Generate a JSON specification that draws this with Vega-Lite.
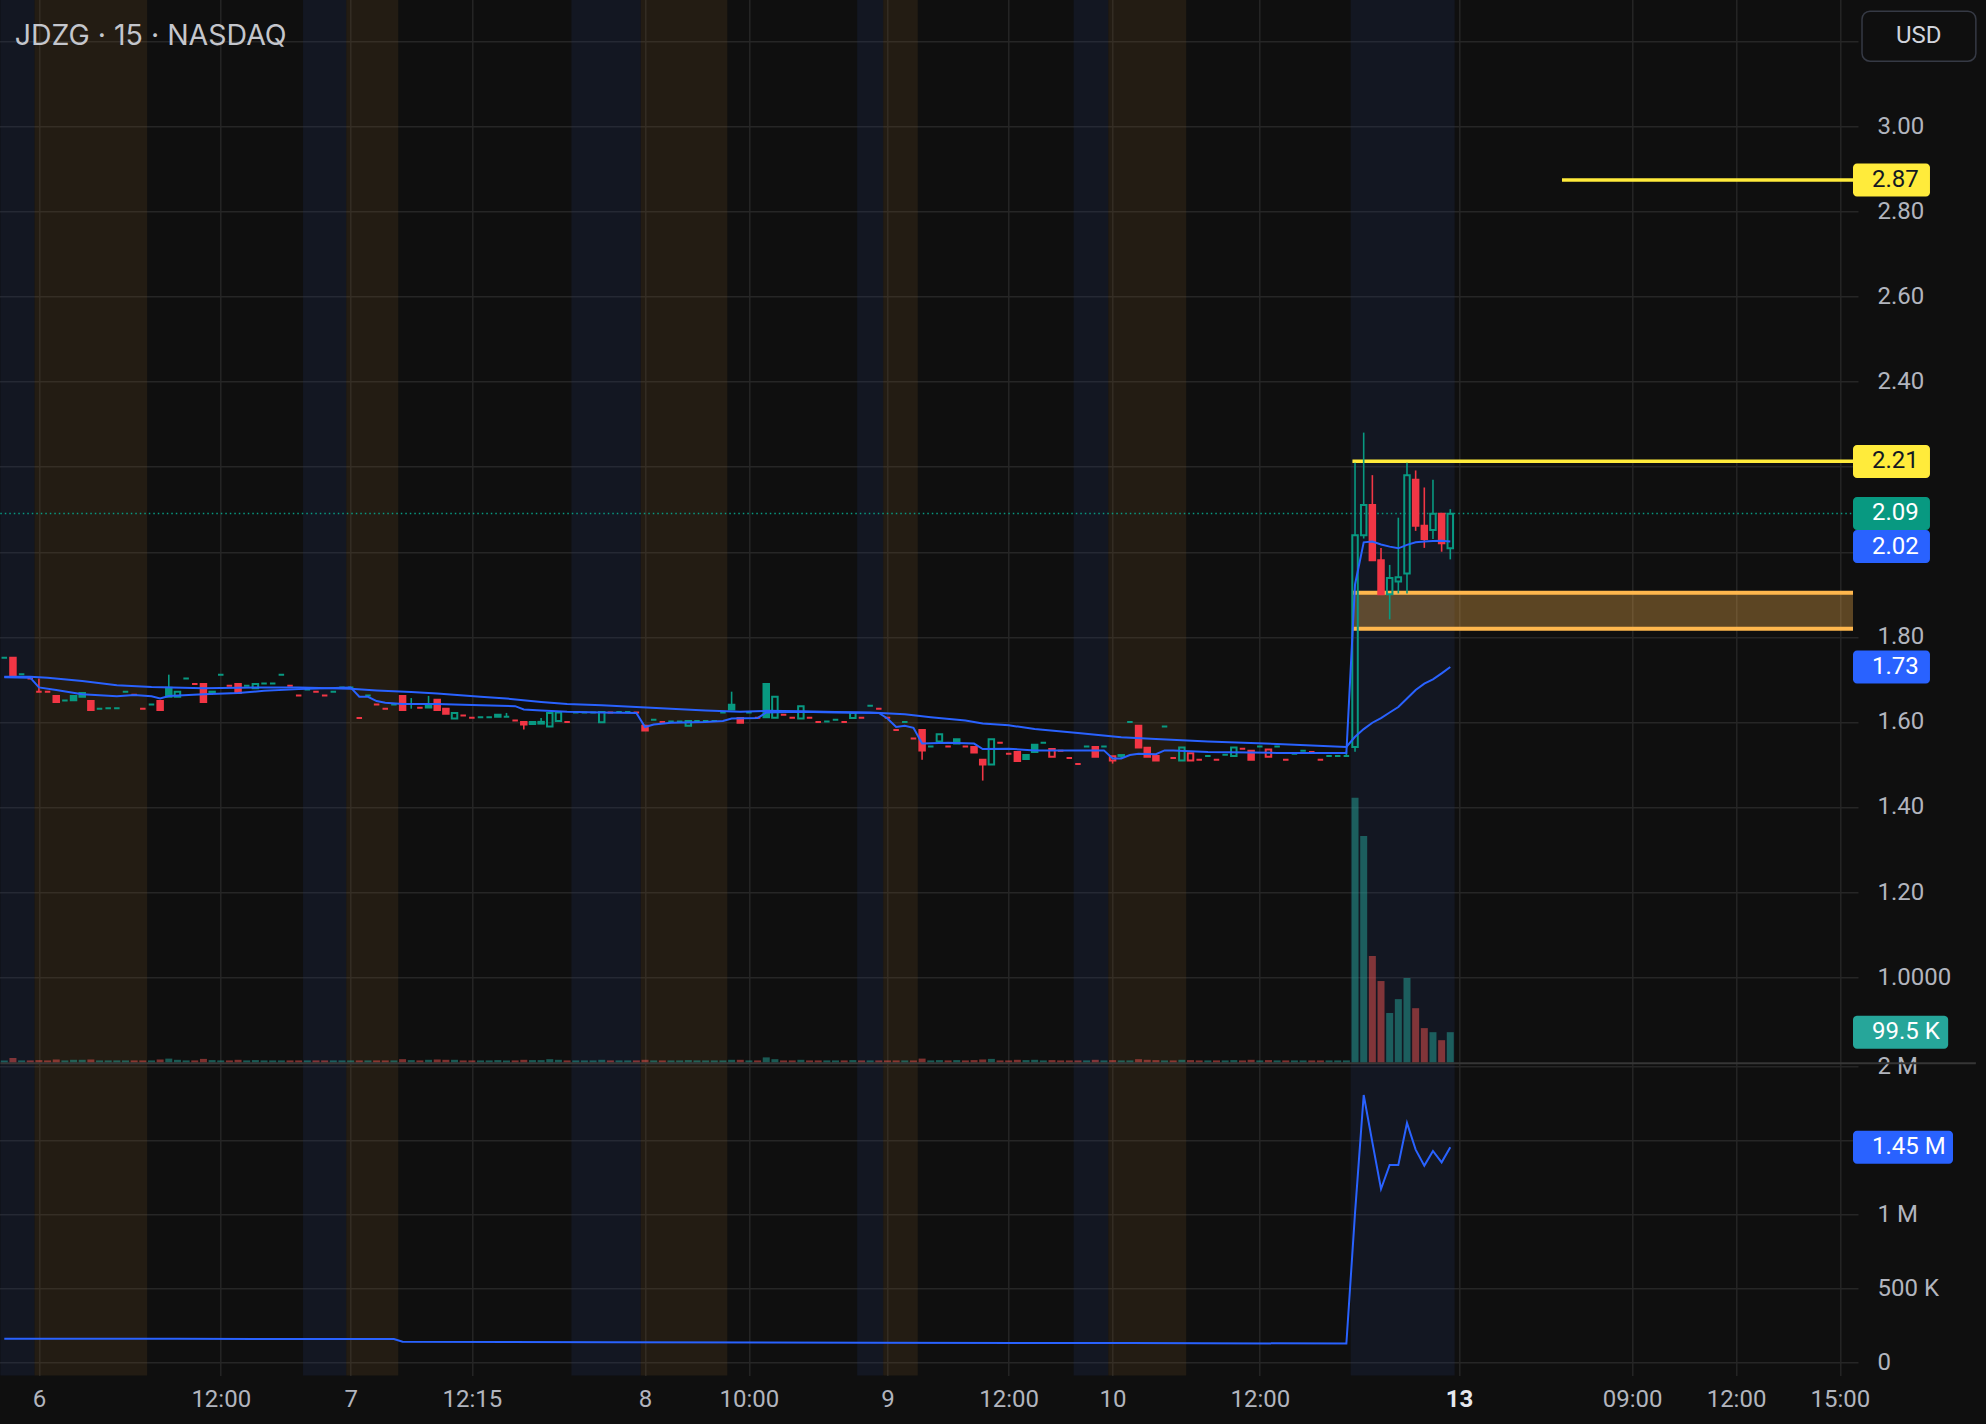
{
"$schema":"https://vega.github.io/schema/vega-lite/v6.json",
"background":"#0f0f0f",
"width":1986,"height":1424,
"autosize":{"type":"fit","contains":"padding"},
"padding":{"left":-4.7,"top":-3.8,"right":0,"bottom":12.5},
"config":{"font":"Roboto","view":{"stroke":null},"axis":{"labelFont":"Roboto"},"text":{"font":"Roboto"}},
"datasets":{
"bars":[
{"n":0,"o":1.751,"h":1.751,"l":1.751,"c":1.751,"v":6000,"dir":"up"},
{"n":1,"o":1.751,"h":1.751,"l":1.710,"c":1.710,"v":14000,"dir":"down"},
{"n":2,"o":1.712,"h":1.712,"l":1.712,"c":1.712,"v":6000,"dir":"up"},
{"n":3,"o":1.702,"h":1.702,"l":1.702,"c":1.702,"v":6000,"dir":"down"},
{"n":4,"o":1.671,"h":1.702,"l":1.671,"c":1.671,"v":7000,"dir":"down"},
{"n":5,"o":1.671,"h":1.671,"l":1.671,"c":1.671,"v":6000,"dir":"down"},
{"n":6,"o":1.661,"h":1.661,"l":1.647,"c":1.647,"v":9000,"dir":"down"},
{"n":7,"o":1.650,"h":1.650,"l":1.650,"c":1.650,"v":6000,"dir":"up"},
{"n":8,"o":1.661,"h":1.661,"l":1.651,"c":1.651,"v":8000,"dir":"up"},
{"n":9,"o":1.668,"h":1.668,"l":1.659,"c":1.659,"v":8000,"dir":"up"},
{"n":10,"o":1.649,"h":1.649,"l":1.628,"c":1.628,"v":9000,"dir":"down"},
{"n":11,"o":1.631,"h":1.631,"l":1.631,"c":1.631,"v":6000,"dir":"up"},
{"n":12,"o":1.632,"h":1.632,"l":1.632,"c":1.632,"v":6000,"dir":"up"},
{"n":13,"o":1.632,"h":1.632,"l":1.632,"c":1.632,"v":6000,"dir":"up"},
{"n":14,"o":1.671,"h":1.671,"l":1.671,"c":1.671,"v":6000,"dir":"up"},
{"n":15,"o":1.664,"h":1.664,"l":1.664,"c":1.664,"v":6000,"dir":"down"},
{"n":16,"o":1.631,"h":1.631,"l":1.631,"c":1.631,"v":6000,"dir":"down"},
{"n":17,"o":1.641,"h":1.641,"l":1.641,"c":1.641,"v":6000,"dir":"up"},
{"n":18,"o":1.649,"h":1.649,"l":1.628,"c":1.628,"v":9000,"dir":"down"},
{"n":19,"o":1.680,"h":1.711,"l":1.659,"c":1.659,"v":12000,"dir":"up"},
{"n":20,"o":1.659,"h":1.671,"l":1.659,"c":1.671,"v":8000,"dir":"up"},
{"n":21,"o":1.702,"h":1.702,"l":1.702,"c":1.702,"v":6000,"dir":"up"},
{"n":22,"o":1.689,"h":1.689,"l":1.689,"c":1.689,"v":6000,"dir":"down"},
{"n":23,"o":1.689,"h":1.689,"l":1.647,"c":1.647,"v":11000,"dir":"down"},
{"n":24,"o":1.669,"h":1.672,"l":1.663,"c":1.671,"v":7000,"dir":"up"},
{"n":25,"o":1.711,"h":1.711,"l":1.711,"c":1.711,"v":6000,"dir":"up"},
{"n":26,"o":1.685,"h":1.685,"l":1.685,"c":1.685,"v":6000,"dir":"down"},
{"n":27,"o":1.689,"h":1.689,"l":1.668,"c":1.668,"v":8000,"dir":"down"},
{"n":28,"o":1.685,"h":1.685,"l":1.685,"c":1.685,"v":6000,"dir":"up"},
{"n":29,"o":1.679,"h":1.689,"l":1.679,"c":1.689,"v":7000,"dir":"up"},
{"n":30,"o":1.690,"h":1.690,"l":1.690,"c":1.690,"v":6000,"dir":"up"},
{"n":31,"o":1.690,"h":1.690,"l":1.690,"c":1.690,"v":6000,"dir":"up"},
{"n":32,"o":1.711,"h":1.711,"l":1.711,"c":1.711,"v":6000,"dir":"up"},
{"n":33,"o":1.685,"h":1.685,"l":1.685,"c":1.685,"v":6000,"dir":"down"},
{"n":34,"o":1.662,"h":1.662,"l":1.662,"c":1.662,"v":6000,"dir":"down"},
{"n":35,"o":1.676,"h":1.676,"l":1.676,"c":1.676,"v":6000,"dir":"up"},
{"n":36,"o":1.671,"h":1.671,"l":1.671,"c":1.671,"v":6000,"dir":"down"},
{"n":37,"o":1.662,"h":1.662,"l":1.662,"c":1.662,"v":6000,"dir":"down"},
{"n":38,"o":1.671,"h":1.671,"l":1.671,"c":1.671,"v":6000,"dir":"up"},
{"n":39,"o":1.681,"h":1.681,"l":1.681,"c":1.681,"v":6000,"dir":"up"},
{"n":40,"o":1.681,"h":1.681,"l":1.681,"c":1.681,"v":6000,"dir":"up"},
{"n":41,"o":1.609,"h":1.609,"l":1.609,"c":1.609,"v":6000,"dir":"down"},
{"n":42,"o":1.662,"h":1.662,"l":1.662,"c":1.662,"v":6000,"dir":"up"},
{"n":43,"o":1.641,"h":1.641,"l":1.641,"c":1.641,"v":6000,"dir":"down"},
{"n":44,"o":1.631,"h":1.631,"l":1.631,"c":1.631,"v":6000,"dir":"down"},
{"n":45,"o":1.641,"h":1.641,"l":1.641,"c":1.641,"v":6000,"dir":"up"},
{"n":46,"o":1.661,"h":1.661,"l":1.628,"c":1.628,"v":10000,"dir":"down"},
{"n":47,"o":1.642,"h":1.656,"l":1.631,"c":1.642,"v":7000,"dir":"up"},
{"n":48,"o":1.633,"h":1.633,"l":1.633,"c":1.633,"v":6000,"dir":"down"},
{"n":49,"o":1.642,"h":1.661,"l":1.634,"c":1.634,"v":8000,"dir":"up"},
{"n":50,"o":1.652,"h":1.652,"l":1.628,"c":1.628,"v":9000,"dir":"down"},
{"n":51,"o":1.631,"h":1.631,"l":1.619,"c":1.619,"v":8000,"dir":"down"},
{"n":52,"o":1.608,"h":1.621,"l":1.608,"c":1.621,"v":8000,"dir":"up"},
{"n":53,"o":1.615,"h":1.615,"l":1.615,"c":1.615,"v":6000,"dir":"down"},
{"n":54,"o":1.610,"h":1.610,"l":1.610,"c":1.610,"v":6000,"dir":"down"},
{"n":55,"o":1.611,"h":1.611,"l":1.611,"c":1.611,"v":6000,"dir":"up"},
{"n":56,"o":1.611,"h":1.611,"l":1.611,"c":1.611,"v":6000,"dir":"up"},
{"n":57,"o":1.617,"h":1.617,"l":1.612,"c":1.612,"v":7000,"dir":"up"},
{"n":58,"o":1.612,"h":1.621,"l":1.612,"c":1.612,"v":6000,"dir":"up"},
{"n":59,"o":1.603,"h":1.603,"l":1.603,"c":1.603,"v":6000,"dir":"down"},
{"n":60,"o":1.600,"h":1.600,"l":1.582,"c":1.594,"v":8000,"dir":"down"},
{"n":61,"o":1.600,"h":1.600,"l":1.595,"c":1.595,"v":7000,"dir":"up"},
{"n":62,"o":1.600,"h":1.609,"l":1.596,"c":1.596,"v":7000,"dir":"up"},
{"n":63,"o":1.589,"h":1.621,"l":1.589,"c":1.621,"v":10000,"dir":"up"},
{"n":64,"o":1.602,"h":1.622,"l":1.602,"c":1.622,"v":8000,"dir":"up"},
{"n":65,"o":1.600,"h":1.600,"l":1.600,"c":1.600,"v":6000,"dir":"down"},
{"n":66,"o":1.622,"h":1.622,"l":1.622,"c":1.622,"v":6000,"dir":"up"},
{"n":67,"o":1.622,"h":1.622,"l":1.622,"c":1.622,"v":6000,"dir":"up"},
{"n":68,"o":1.622,"h":1.622,"l":1.622,"c":1.622,"v":6000,"dir":"up"},
{"n":69,"o":1.599,"h":1.623,"l":1.599,"c":1.623,"v":8000,"dir":"up"},
{"n":70,"o":1.622,"h":1.622,"l":1.622,"c":1.622,"v":6000,"dir":"down"},
{"n":71,"o":1.623,"h":1.623,"l":1.623,"c":1.623,"v":6000,"dir":"up"},
{"n":72,"o":1.623,"h":1.623,"l":1.623,"c":1.623,"v":6000,"dir":"up"},
{"n":73,"o":1.622,"h":1.622,"l":1.622,"c":1.622,"v":6000,"dir":"down"},
{"n":74,"o":1.591,"h":1.591,"l":1.580,"c":1.580,"v":8000,"dir":"down"},
{"n":75,"o":1.605,"h":1.605,"l":1.605,"c":1.605,"v":6000,"dir":"up"},
{"n":76,"o":1.600,"h":1.600,"l":1.600,"c":1.600,"v":6000,"dir":"down"},
{"n":77,"o":1.601,"h":1.601,"l":1.601,"c":1.601,"v":6000,"dir":"up"},
{"n":78,"o":1.601,"h":1.601,"l":1.601,"c":1.601,"v":6000,"dir":"up"},
{"n":79,"o":1.591,"h":1.602,"l":1.591,"c":1.602,"v":7000,"dir":"up"},
{"n":80,"o":1.602,"h":1.602,"l":1.602,"c":1.602,"v":6000,"dir":"up"},
{"n":81,"o":1.602,"h":1.602,"l":1.602,"c":1.602,"v":6000,"dir":"up"},
{"n":82,"o":1.602,"h":1.602,"l":1.602,"c":1.602,"v":6000,"dir":"up"},
{"n":83,"o":1.622,"h":1.622,"l":1.622,"c":1.622,"v":6000,"dir":"up"},
{"n":84,"o":1.640,"h":1.671,"l":1.629,"c":1.629,"v":8000,"dir":"up"},
{"n":85,"o":1.609,"h":1.609,"l":1.598,"c":1.598,"v":8000,"dir":"down"},
{"n":86,"o":1.622,"h":1.622,"l":1.622,"c":1.622,"v":6000,"dir":"up"},
{"n":87,"o":1.610,"h":1.610,"l":1.610,"c":1.610,"v":6000,"dir":"down"},
{"n":88,"o":1.689,"h":1.689,"l":1.611,"c":1.611,"v":16000,"dir":"up"},
{"n":89,"o":1.610,"h":1.659,"l":1.610,"c":1.659,"v":10000,"dir":"up"},
{"n":90,"o":1.617,"h":1.617,"l":1.617,"c":1.617,"v":6000,"dir":"down"},
{"n":91,"o":1.610,"h":1.610,"l":1.610,"c":1.610,"v":6000,"dir":"down"},
{"n":92,"o":1.608,"h":1.637,"l":1.608,"c":1.637,"v":8000,"dir":"up"},
{"n":93,"o":1.610,"h":1.610,"l":1.610,"c":1.610,"v":6000,"dir":"down"},
{"n":94,"o":1.600,"h":1.600,"l":1.600,"c":1.600,"v":6000,"dir":"down"},
{"n":95,"o":1.601,"h":1.601,"l":1.601,"c":1.601,"v":6000,"dir":"up"},
{"n":96,"o":1.605,"h":1.605,"l":1.605,"c":1.605,"v":6000,"dir":"up"},
{"n":97,"o":1.600,"h":1.600,"l":1.600,"c":1.600,"v":6000,"dir":"down"},
{"n":98,"o":1.609,"h":1.621,"l":1.609,"c":1.621,"v":7000,"dir":"up"},
{"n":99,"o":1.610,"h":1.610,"l":1.610,"c":1.610,"v":6000,"dir":"down"},
{"n":100,"o":1.638,"h":1.638,"l":1.638,"c":1.638,"v":6000,"dir":"up"},
{"n":101,"o":1.631,"h":1.631,"l":1.631,"c":1.631,"v":6000,"dir":"down"},
{"n":102,"o":1.610,"h":1.610,"l":1.610,"c":1.610,"v":6000,"dir":"down"},
{"n":103,"o":1.581,"h":1.581,"l":1.581,"c":1.581,"v":6000,"dir":"down"},
{"n":104,"o":1.600,"h":1.600,"l":1.600,"c":1.600,"v":6000,"dir":"up"},
{"n":105,"o":1.561,"h":1.561,"l":1.561,"c":1.561,"v":6000,"dir":"down"},
{"n":106,"o":1.581,"h":1.581,"l":1.511,"c":1.533,"v":12000,"dir":"down"},
{"n":107,"o":1.542,"h":1.542,"l":1.542,"c":1.542,"v":6000,"dir":"up"},
{"n":108,"o":1.554,"h":1.571,"l":1.554,"c":1.571,"v":7000,"dir":"up"},
{"n":109,"o":1.542,"h":1.542,"l":1.542,"c":1.542,"v":6000,"dir":"down"},
{"n":110,"o":1.559,"h":1.559,"l":1.549,"c":1.549,"v":7000,"dir":"up"},
{"n":111,"o":1.542,"h":1.542,"l":1.542,"c":1.542,"v":6000,"dir":"down"},
{"n":112,"o":1.541,"h":1.541,"l":1.528,"c":1.528,"v":7000,"dir":"down"},
{"n":113,"o":1.511,"h":1.511,"l":1.462,"c":1.500,"v":9000,"dir":"down"},
{"n":114,"o":1.500,"h":1.559,"l":1.500,"c":1.559,"v":11000,"dir":"up"},
{"n":115,"o":1.551,"h":1.551,"l":1.551,"c":1.551,"v":6000,"dir":"down"},
{"n":116,"o":1.525,"h":1.525,"l":1.525,"c":1.525,"v":6000,"dir":"down"},
{"n":117,"o":1.529,"h":1.529,"l":1.508,"c":1.508,"v":8000,"dir":"down"},
{"n":118,"o":1.522,"h":1.522,"l":1.513,"c":1.513,"v":7000,"dir":"up"},
{"n":119,"o":1.546,"h":1.546,"l":1.529,"c":1.529,"v":8000,"dir":"up"},
{"n":120,"o":1.551,"h":1.551,"l":1.551,"c":1.551,"v":6000,"dir":"up"},
{"n":121,"o":1.518,"h":1.536,"l":1.518,"c":1.536,"v":7000,"dir":"down"},
{"n":122,"o":1.532,"h":1.532,"l":1.532,"c":1.532,"v":6000,"dir":"down"},
{"n":123,"o":1.515,"h":1.515,"l":1.515,"c":1.515,"v":6000,"dir":"down"},
{"n":124,"o":1.501,"h":1.501,"l":1.501,"c":1.501,"v":6000,"dir":"down"},
{"n":125,"o":1.542,"h":1.542,"l":1.542,"c":1.542,"v":6000,"dir":"up"},
{"n":126,"o":1.541,"h":1.541,"l":1.518,"c":1.518,"v":8000,"dir":"down"},
{"n":127,"o":1.542,"h":1.542,"l":1.542,"c":1.542,"v":6000,"dir":"up"},
{"n":128,"o":1.509,"h":1.519,"l":1.502,"c":1.519,"v":7000,"dir":"down"},
{"n":129,"o":1.520,"h":1.522,"l":1.513,"c":1.522,"v":6000,"dir":"up"},
{"n":130,"o":1.600,"h":1.600,"l":1.600,"c":1.600,"v":6000,"dir":"up"},
{"n":131,"o":1.591,"h":1.591,"l":1.540,"c":1.540,"v":10000,"dir":"down"},
{"n":132,"o":1.539,"h":1.539,"l":1.518,"c":1.518,"v":8000,"dir":"down"},
{"n":133,"o":1.520,"h":1.520,"l":1.509,"c":1.509,"v":7000,"dir":"down"},
{"n":134,"o":1.589,"h":1.589,"l":1.589,"c":1.589,"v":6000,"dir":"up"},
{"n":135,"o":1.515,"h":1.515,"l":1.515,"c":1.515,"v":6000,"dir":"down"},
{"n":136,"o":1.509,"h":1.540,"l":1.509,"c":1.540,"v":8000,"dir":"up"},
{"n":137,"o":1.509,"h":1.526,"l":1.509,"c":1.526,"v":7000,"dir":"down"},
{"n":138,"o":1.511,"h":1.511,"l":1.511,"c":1.511,"v":6000,"dir":"down"},
{"n":139,"o":1.520,"h":1.520,"l":1.520,"c":1.520,"v":6000,"dir":"up"},
{"n":140,"o":1.511,"h":1.511,"l":1.511,"c":1.511,"v":6000,"dir":"down"},
{"n":141,"o":1.523,"h":1.523,"l":1.523,"c":1.523,"v":6000,"dir":"up"},
{"n":142,"o":1.520,"h":1.540,"l":1.520,"c":1.540,"v":7000,"dir":"up"},
{"n":143,"o":1.537,"h":1.537,"l":1.537,"c":1.537,"v":6000,"dir":"down"},
{"n":144,"o":1.532,"h":1.532,"l":1.511,"c":1.511,"v":8000,"dir":"down"},
{"n":145,"o":1.542,"h":1.542,"l":1.542,"c":1.542,"v":6000,"dir":"up"},
{"n":146,"o":1.518,"h":1.535,"l":1.518,"c":1.535,"v":7000,"dir":"down"},
{"n":147,"o":1.542,"h":1.542,"l":1.542,"c":1.542,"v":6000,"dir":"up"},
{"n":148,"o":1.511,"h":1.511,"l":1.511,"c":1.511,"v":6000,"dir":"down"},
{"n":149,"o":1.525,"h":1.525,"l":1.525,"c":1.525,"v":6000,"dir":"up"},
{"n":150,"o":1.532,"h":1.532,"l":1.532,"c":1.532,"v":6000,"dir":"up"},
{"n":151,"o":1.529,"h":1.529,"l":1.529,"c":1.529,"v":6000,"dir":"down"},
{"n":152,"o":1.511,"h":1.511,"l":1.511,"c":1.511,"v":6000,"dir":"down"},
{"n":153,"o":1.520,"h":1.520,"l":1.520,"c":1.520,"v":6000,"dir":"up"},
{"n":154,"o":1.520,"h":1.520,"l":1.520,"c":1.520,"v":6000,"dir":"up"},
{"n":155,"o":1.520,"h":1.531,"l":1.520,"c":1.520,"v":6000,"dir":"up"},
{"n":156,"o":1.541,"h":2.209,"l":1.530,"c":2.039,"v":876000,"dir":"up"},
{"n":157,"o":2.039,"h":2.280,"l":2.031,"c":2.110,"v":750000,"dir":"up"},
{"n":158,"o":2.110,"h":2.180,"l":1.980,"c":1.980,"v":352000,"dir":"down"},
{"n":159,"o":1.980,"h":2.009,"l":1.900,"c":1.900,"v":269000,"dir":"down"},
{"n":160,"o":1.900,"h":1.969,"l":1.841,"c":1.938,"v":163000,"dir":"up"},
{"n":161,"o":1.930,"h":2.080,"l":1.902,"c":1.940,"v":209000,"dir":"up"},
{"n":162,"o":1.949,"h":2.209,"l":1.902,"c":2.180,"v":279000,"dir":"up"},
{"n":163,"o":2.169,"h":2.191,"l":2.049,"c":2.061,"v":179000,"dir":"down"},
{"n":164,"o":2.061,"h":2.151,"l":2.009,"c":2.030,"v":113000,"dir":"down"},
{"n":165,"o":2.051,"h":2.169,"l":2.030,"c":2.089,"v":99500,"dir":"up"},
{"n":166,"o":2.089,"h":2.089,"l":2.000,"c":2.020,"v":73000,"dir":"down"},
{"n":167,"o":2.008,"h":2.100,"l":1.982,"c":2.089,"v":99500,"dir":"up"}
],
"vwap":[
{"n":0,"value":1.705},{"n":3,"value":1.704},{"n":4,"value":1.681},{"n":6,"value":1.675},{"n":9,"value":1.665},{"n":13,"value":1.660},{"n":15,"value":1.663},{"n":17,"value":1.660},{"n":18,"value":1.655},{"n":19,"value":1.661},{"n":23,"value":1.665},{"n":27,"value":1.668},{"n":30,"value":1.673},{"n":34,"value":1.677},{"n":39,"value":1.680},{"n":40,"value":1.681},{"n":41,"value":1.659},{"n":42,"value":1.659},{"n":43,"value":1.649},{"n":44,"value":1.645},{"n":46,"value":1.642},{"n":50,"value":1.642},{"n":55,"value":1.639},{"n":59,"value":1.637},{"n":60,"value":1.629},{"n":62,"value":1.627},{"n":65,"value":1.624},{"n":69,"value":1.622},{"n":73,"value":1.621},{"n":74,"value":1.588},{"n":75,"value":1.594},{"n":77,"value":1.598},{"n":81,"value":1.600},{"n":83,"value":1.602},{"n":84,"value":1.608},{"n":87,"value":1.609},{"n":88,"value":1.622},{"n":92,"value":1.624},{"n":96,"value":1.622},{"n":101,"value":1.621},{"n":102,"value":1.608},{"n":103,"value":1.588},{"n":104,"value":1.591},{"n":105,"value":1.586},{"n":106,"value":1.549},{"n":109,"value":1.551},{"n":112,"value":1.549},{"n":113,"value":1.536},{"n":116,"value":1.537},{"n":119,"value":1.533},{"n":127,"value":1.533},{"n":128,"value":1.514},{"n":129,"value":1.514},{"n":130,"value":1.522},{"n":131,"value":1.525},{"n":133,"value":1.524},{"n":134,"value":1.533},{"n":135,"value":1.533},{"n":139,"value":1.529},{"n":147,"value":1.527},{"n":155,"value":1.527},{"n":156,"value":1.923},{"n":157,"value":2.022},{"n":158,"value":2.024},{"n":159,"value":2.017},{"n":160,"value":2.012},{"n":161,"value":2.008},{"n":162,"value":2.016},{"n":163,"value":2.022},{"n":164,"value":2.024},{"n":165,"value":2.025},{"n":166,"value":2.026},{"n":167,"value":2.024}
],
"ma":[
{"n":0,"value":1.706},{"n":3,"value":1.706},{"n":5,"value":1.704},{"n":9,"value":1.696},{"n":13,"value":1.686},{"n":17,"value":1.682},{"n":23,"value":1.679},{"n":27,"value":1.680},{"n":30,"value":1.681},{"n":34,"value":1.681},{"n":40,"value":1.678},{"n":43,"value":1.674},{"n":47,"value":1.670},{"n":50,"value":1.667},{"n":55,"value":1.659},{"n":58,"value":1.655},{"n":62,"value":1.647},{"n":65,"value":1.642},{"n":69,"value":1.639},{"n":73,"value":1.635},{"n":77,"value":1.631},{"n":81,"value":1.627},{"n":85,"value":1.624},{"n":88,"value":1.626},{"n":92,"value":1.625},{"n":96,"value":1.623},{"n":100,"value":1.622},{"n":104,"value":1.618},{"n":107,"value":1.611},{"n":111,"value":1.603},{"n":113,"value":1.596},{"n":116,"value":1.592},{"n":119,"value":1.583},{"n":124,"value":1.574},{"n":129,"value":1.564},{"n":133,"value":1.560},{"n":139,"value":1.554},{"n":147,"value":1.548},{"n":155,"value":1.541},{"n":156,"value":1.565},{"n":157,"value":1.583},{"n":158,"value":1.598},{"n":159,"value":1.609},{"n":160,"value":1.622},{"n":161,"value":1.635},{"n":162,"value":1.655},{"n":163,"value":1.675},{"n":164,"value":1.690},{"n":165,"value":1.700},{"n":166,"value":1.714},{"n":167,"value":1.729}
],
"rvol":[
{"n":0,"value":161000},{"n":20,"value":160000},{"n":45,"value":158000},{"n":46,"value":140000},{"n":70,"value":137000},{"n":100,"value":134000},{"n":130,"value":131000},{"n":155,"value":128000},{"n":156,"value":1010000},{"n":157,"value":1806000},{"n":158,"value":1486000},{"n":159,"value":1171000},{"n":160,"value":1333000},{"n":161,"value":1333000},{"n":162,"value":1617000},{"n":163,"value":1437000},{"n":164,"value":1329000},{"n":165,"value":1428000},{"n":166,"value":1351000},{"n":167,"value":1453000}
],
"bands":[
{"start":-0.46,"end":3.5,"session":"post"},
{"start":3.5,"end":16.5,"session":"pre"},
{"start":34.5,"end":39.5,"session":"post"},
{"start":39.5,"end":45.5,"session":"pre"},
{"start":65.5,"end":73.5,"session":"post"},
{"start":73.5,"end":83.5,"session":"pre"},
{"start":98.5,"end":101.5,"session":"post"},
{"start":101.5,"end":105.5,"session":"pre"},
{"start":123.5,"end":127.5,"session":"post"},
{"start":127.5,"end":136.5,"session":"pre"},
{"start":155.5,"end":167.5,"session":"post"}
],
"levels":[{"from":179.9,"price":2.874},{"from":155.7,"price":2.2125}],
"zone":[{"from":155.7,"lo":1.819,"hi":1.9035}],
"last":[{"price":2.09}],
"separator":[{"price":0.7976}],
"tags":[
{"price":2.874,"text":"2.87","kind":"level"},
{"price":2.2123,"text":"2.21","kind":"level"},
{"price":2.09,"text":"2.09","kind":"last"},
{"price":2.012,"text":"2.02","kind":"line"},
{"price":1.729,"text":"1.73","kind":"line"}
],
"vtag":[{"v":99500,"text":"99.5 K"}],
"rtag":[{"value":1453000,"text":"1.45 M"}]
},
"resolve":{"scale":{"y":"independent"}},
"layer":[
{"layer":[
{"data":{"name":"bands"},"mark":{"type":"rect","opacity":0.2},
 "encoding":{
  "x":{"field":"start","type":"quantitative","scale":{"domain":[-0.46,213.51],"nice":false,"zero":false},"title":null,
   "axis":{"values":[4,25,40,54,74,86,102,116,128,145,168,188,200,212],
    "labelExpr":"datum.value==4?'6':datum.value==25?'12:00':datum.value==40?'7':datum.value==54?'12:15':datum.value==74?'8':datum.value==86?'10:00':datum.value==102?'9':datum.value==116?'12:00':datum.value==128?'10':datum.value==145?'12:00':datum.value==168?'13':datum.value==188?'09:00':datum.value==200?'12:00':datum.value==212?'15:00':''",
    "labelFontSize":24,
    "labelColor":{"condition":{"test":"datum.value == 168","value":"#e6e8ee"},"value":"#b2b5be"},
    "labelFontWeight":{"condition":{"test":"datum.value == 168","value":"bold"},"value":"normal"},
    "labelPadding":12,"ticks":false,"tickSize":0,"domain":false,"grid":true,"gridColor":"#262626","gridWidth":1.5,"labelFlush":false,"labelOverlap":false,"title":null}},
  "x2":{"field":"end"},
  "color":{"condition":{"test":"datum.session == 'pre'","value":"#735023"},"value":"#23376e"}}},
{"data":{"name":"separator"},"mark":{"type":"rule","color":"#363636","strokeWidth":2},
 "encoding":{
  "x":{"datum":-0.46,"type":"quantitative","scale":{"domain":[-0.46,213.51],"nice":false,"zero":false}},
  "x2":{"datum":227.7},
  "y":{"field":"price","type":"quantitative","scale":{"domain":[0.0753,3.2941],"nice":false,"zero":false},"title":null}}},
{"data":{"name":"zone"},"mark":{"type":"rect","color":"#ffb74d","opacity":0.32},
 "encoding":{
  "x":{"field":"from","type":"quantitative","scale":{"domain":[-0.46,213.51],"nice":false,"zero":false},"title":null},
  "x2":{"datum":213.51},
  "y":{"field":"lo","type":"quantitative","scale":{"domain":[0.0753,3.2941],"nice":false,"zero":false},"title":null},
  "y2":{"field":"hi"}}},
{"data":{"name":"zone"},"mark":{"type":"rule","color":"#ffb74d","strokeWidth":4},
 "encoding":{
  "x":{"field":"from","type":"quantitative","scale":{"domain":[-0.46,213.51],"nice":false,"zero":false},"title":null},
  "x2":{"datum":213.51},
  "y":{"field":"lo","type":"quantitative","scale":{"domain":[0.0753,3.2941],"nice":false,"zero":false},"title":null}}},
{"data":{"name":"zone"},"mark":{"type":"rule","color":"#ffb74d","strokeWidth":4},
 "encoding":{
  "x":{"field":"from","type":"quantitative","scale":{"domain":[-0.46,213.51],"nice":false,"zero":false},"title":null},
  "x2":{"datum":213.51},
  "y":{"field":"hi","type":"quantitative","scale":{"domain":[0.0753,3.2941],"nice":false,"zero":false},"title":null}}},
{"data":{"name":"levels"},"mark":{"type":"rule","color":"#ffeb3b","strokeWidth":3.5},
 "encoding":{
  "x":{"field":"from","type":"quantitative","scale":{"domain":[-0.46,213.51],"nice":false,"zero":false},"title":null},
  "x2":{"datum":213.51},
  "y":{"field":"price","type":"quantitative","scale":{"domain":[0.0753,3.2941],"nice":false,"zero":false},"title":null}}},
{"data":{"name":"last"},"mark":{"type":"rule","color":"#089981","strokeWidth":1.5,"strokeDash":[1.5,3]},
 "encoding":{
  "x":{"datum":-0.46,"type":"quantitative","scale":{"domain":[-0.46,213.51],"nice":false,"zero":false}},
  "x2":{"datum":213.51},
  "y":{"field":"price","type":"quantitative","scale":{"domain":[0.0753,3.2941],"nice":false,"zero":false},"title":null}}},
{"data":{"name":"bars"},"mark":{"type":"rule","strokeWidth":1.6},
 "encoding":{
  "x":{"field":"n","type":"quantitative","scale":{"domain":[-0.46,213.51],"nice":false,"zero":false},"title":null},
  "y":{"field":"h","type":"quantitative","scale":{"domain":[0.0753,3.2941],"nice":false,"zero":false},"title":null},
  "y2":{"field":"c"},
  "color":{"condition":{"test":"datum.dir == 'up'","value":"#089981"},"value":"#f23645"}}},
{"data":{"name":"bars"},"mark":{"type":"rule","strokeWidth":1.6},
 "encoding":{
  "x":{"field":"n","type":"quantitative","scale":{"domain":[-0.46,213.51],"nice":false,"zero":false},"title":null},
  "y":{"field":"o","type":"quantitative","scale":{"domain":[0.0753,3.2941],"nice":false,"zero":false},"title":null},
  "y2":{"field":"l"},
  "color":{"condition":{"test":"datum.dir == 'up'","value":"#089981"},"value":"#f23645"}}},
{"data":{"name":"bars"},"mark":{"type":"bar","width":5.5,"strokeWidth":2,"orient":"vertical"},
 "encoding":{
  "x":{"field":"n","type":"quantitative","scale":{"domain":[-0.46,213.51],"nice":false,"zero":false},"title":null},
  "y":{"field":"o","type":"quantitative","scale":{"domain":[0.0753,3.2941],"nice":false,"zero":false},"title":null,
   "axis":{"orient":"right","values":[1,1.2,1.4,1.6,1.8,2,2.2,2.4,2.6,2.8,3,3.2],
    "labelExpr":"abs(datum.value-1)<0.001?'1.0000':(abs(datum.value-2.2)<0.001||abs(datum.value-2)<0.001||abs(datum.value-3.2)<0.001)?'':format(datum.value,'.2f')",
    "grid":true,"gridColor":"#262626","gridWidth":1.5,"ticks":false,"tickSize":0,"domain":false,"labelPadding":19,"labelFontSize":24,"labelColor":"#b2b5be","labelOverlap":false,"labelFlush":false,"title":null}},
  "y2":{"field":"c"},
  "fill":{"condition":[{"test":"datum.c > datum.o","value":"transparent"},{"test":"datum.dir == 'up'","value":"#089981"}],"value":"#f23645"},
  "stroke":{"condition":{"test":"datum.dir == 'up'","value":"#089981"},"value":"#f23645"}}},
{"data":{"name":"ma"},"mark":{"type":"line","color":"#2962ff","strokeWidth":2},
 "encoding":{
  "x":{"field":"n","type":"quantitative","scale":{"domain":[-0.46,213.51],"nice":false,"zero":false},"title":null},
  "y":{"field":"value","type":"quantitative","scale":{"domain":[0.0753,3.2941],"nice":false,"zero":false},"title":null}}},
{"data":{"name":"vwap"},"mark":{"type":"line","color":"#2962ff","strokeWidth":2},
 "encoding":{
  "x":{"field":"n","type":"quantitative","scale":{"domain":[-0.46,213.51],"nice":false,"zero":false},"title":null},
  "y":{"field":"value","type":"quantitative","scale":{"domain":[0.0753,3.2941],"nice":false,"zero":false},"title":null}}},
{"data":{"name":"tags"},"mark":{"type":"bar","height":33,"orient":"horizontal","cornerRadiusEnd":4},
 "encoding":{
  "x":{"datum":213.51,"type":"quantitative","scale":{"domain":[-0.46,213.51],"nice":false,"zero":false}},
  "x2":{"datum":222.4},
  "y":{"field":"price","type":"quantitative","scale":{"domain":[0.0753,3.2941],"nice":false,"zero":false},"title":null},
  "color":{"condition":[{"test":"datum.kind == 'level'","value":"#ffeb3b"},{"test":"datum.kind == 'last'","value":"#089981"}],"value":"#2962ff"}}},
{"data":{"name":"tags"},"mark":{"type":"text","align":"left","baseline":"middle","fontSize":24,"font":"Roboto"},
 "encoding":{
  "x":{"datum":215.7,"type":"quantitative","scale":{"domain":[-0.46,213.51],"nice":false,"zero":false}},
  "y":{"field":"price","type":"quantitative","scale":{"domain":[0.0753,3.2941],"nice":false,"zero":false},"title":null},
  "text":{"field":"text"},
  "color":{"condition":{"test":"datum.kind == 'level'","value":"#131722"},"value":"#ffffff"}}},
{"data":{"values":[{"t":"JDZG · 15 · NASDAQ"}]},"mark":{"type":"text","align":"left","baseline":"middle","fontSize":28.5,"font":"Inter","color":"#c4c6cc"},
 "encoding":{
  "x":{"datum":1.2,"type":"quantitative","scale":{"domain":[-0.46,213.51],"nice":false,"zero":false}},
  "y":{"datum":3.212,"type":"quantitative","scale":{"domain":[0.0753,3.2941],"nice":false,"zero":false}},
  "text":{"field":"t"}}},
{"data":{"values":[{"t":"USD"}]},"mark":{"type":"rect","fill":"#0f0f0f","stroke":"#363a45","strokeWidth":1.5,"cornerRadius":8},
 "encoding":{
  "x":{"datum":214.55,"type":"quantitative","scale":{"domain":[-0.46,213.51],"nice":false,"zero":false}},
  "x2":{"datum":227.7},
  "y":{"datum":3.153,"type":"quantitative","scale":{"domain":[0.0753,3.2941],"nice":false,"zero":false}},
  "y2":{"datum":3.2706}}},
{"data":{"values":[{"t":"USD"}]},"mark":{"type":"text","align":"center","baseline":"middle","fontSize":24,"font":"Roboto","color":"#d1d4dc"},
 "encoding":{
  "x":{"datum":221.1,"type":"quantitative","scale":{"domain":[-0.46,213.51],"nice":false,"zero":false}},
  "y":{"datum":3.212,"type":"quantitative","scale":{"domain":[0.0753,3.2941],"nice":false,"zero":false}},
  "text":{"field":"t"}}}
]},
{"layer":[
{"data":{"name":"bars"},"mark":{"type":"bar","width":7,"orient":"vertical","opacity":0.5},
 "encoding":{
  "x":{"field":"n","type":"quantitative","scale":{"domain":[-0.46,213.51],"nice":false,"zero":false},"title":null},
  "y":{"field":"v","type":"quantitative","scale":{"domain":[-1021600,3516000],"nice":false,"zero":false},"axis":null},
  "color":{"condition":{"test":"datum.dir == 'up'","value":"#26a69a"},"value":"#ef5350"}}},
{"data":{"name":"vtag"},"mark":{"type":"bar","height":33,"orient":"horizontal","cornerRadiusEnd":4,"color":"#26a69a"},
 "encoding":{
  "x":{"datum":213.51,"type":"quantitative","scale":{"domain":[-0.46,213.51],"nice":false,"zero":false}},
  "x2":{"datum":224.5},
  "y":{"field":"v","type":"quantitative","scale":{"domain":[-1021600,3516000],"nice":false,"zero":false},"axis":null}}},
{"data":{"name":"vtag"},"mark":{"type":"text","align":"left","baseline":"middle","fontSize":24,"font":"Roboto","color":"#ffffff"},
 "encoding":{
  "x":{"datum":215.7,"type":"quantitative","scale":{"domain":[-0.46,213.51],"nice":false,"zero":false}},
  "y":{"field":"v","type":"quantitative","scale":{"domain":[-1021600,3516000],"nice":false,"zero":false},"axis":null},
  "text":{"field":"text"}}}
]},
{"layer":[
{"data":{"name":"rvol"},"mark":{"type":"line","color":"#2962ff","strokeWidth":2},
 "encoding":{
  "x":{"field":"n","type":"quantitative","scale":{"domain":[-0.46,213.51],"nice":false,"zero":false},"title":null},
  "y":{"field":"value","type":"quantitative","scale":{"domain":[-54056,9189500],"nice":false,"zero":false},"title":null,
   "axis":{"orient":"right","values":[0,500000,1000000,1500000,2000000],
    "labelExpr":"datum.value==0?'0':datum.value==500000?'500 K':datum.value==1000000?'1 M':datum.value==2000000?'2 M':''",
    "grid":true,"gridColor":"#262626","gridWidth":1.5,"ticks":false,"tickSize":0,"domain":false,"labelPadding":19,"labelFontSize":24,"labelColor":"#b2b5be","labelOverlap":false,"labelFlush":false,"title":null}}}},
{"data":{"name":"rtag"},"mark":{"type":"bar","height":33,"orient":"horizontal","cornerRadiusEnd":4,"color":"#2962ff"},
 "encoding":{
  "x":{"datum":213.51,"type":"quantitative","scale":{"domain":[-0.46,213.51],"nice":false,"zero":false}},
  "x2":{"datum":225.06},
  "y":{"field":"value","type":"quantitative","scale":{"domain":[-54056,9189500],"nice":false,"zero":false},"title":null}}},
{"data":{"name":"rtag"},"mark":{"type":"text","align":"left","baseline":"middle","fontSize":24,"font":"Roboto","color":"#ffffff"},
 "encoding":{
  "x":{"datum":215.7,"type":"quantitative","scale":{"domain":[-0.46,213.51],"nice":false,"zero":false}},
  "y":{"field":"value","type":"quantitative","scale":{"domain":[-54056,9189500],"nice":false,"zero":false},"title":null},
  "text":{"field":"text"}}}
]}
]
}
